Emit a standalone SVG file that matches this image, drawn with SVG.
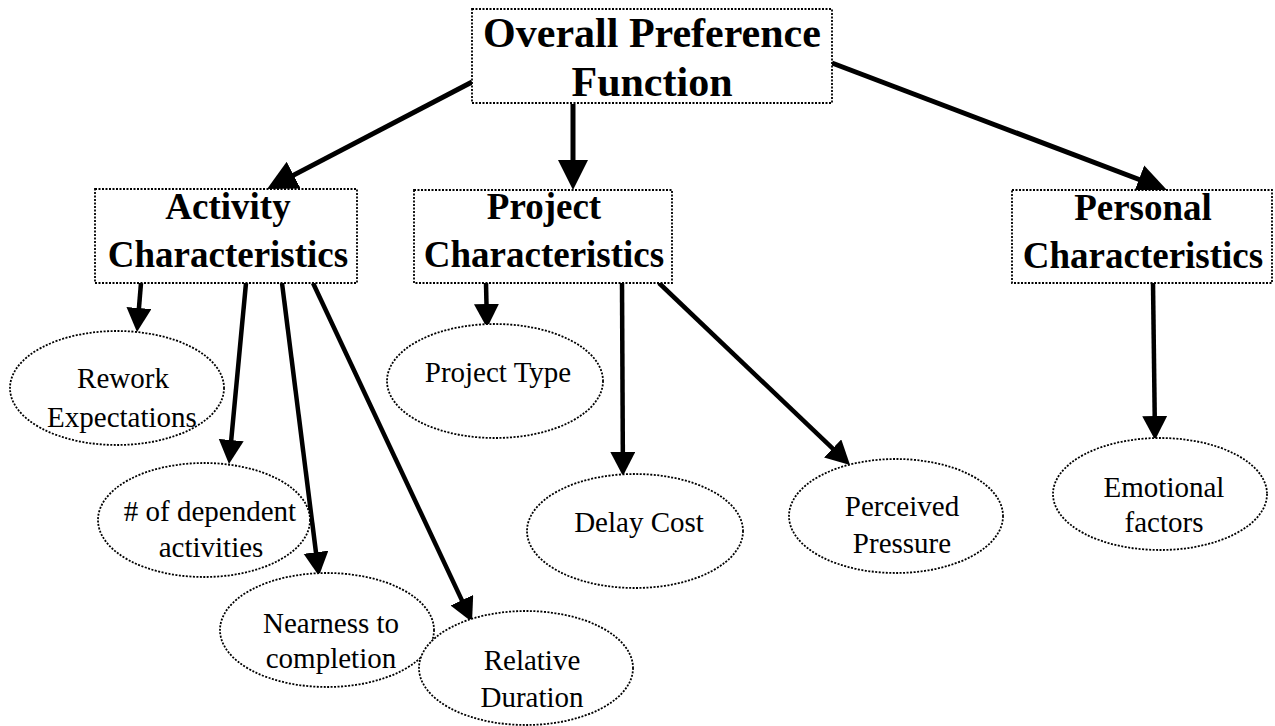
<svg xmlns="http://www.w3.org/2000/svg" width="1275" height="726" viewBox="0 0 1275 726">
<style>
.box{fill:#fff;stroke:#000;stroke-width:1.8;stroke-dasharray:2 1.5}
.ell{fill:#fff;stroke:#000;stroke-width:1.8;stroke-dasharray:2 1.5}
.t0{font-family:"Liberation Serif","Times New Roman",serif;font-weight:bold;font-size:42px;text-anchor:middle;fill:#000}
.t1{font-family:"Liberation Serif","Times New Roman",serif;font-weight:bold;font-size:37px;text-anchor:middle;fill:#000}
.t2{font-family:"Liberation Serif","Times New Roman",serif;font-size:29px;text-anchor:middle;fill:#000}
.c{stroke:#000;stroke-width:4.5;fill:none;marker-end:url(#ah)}
.cl{stroke:#000;stroke-width:5;fill:none;marker-end:url(#ahL)}
</style>
<defs>
<marker id="ah" markerUnits="userSpaceOnUse" markerWidth="26" markerHeight="27" refX="14" refY="12.5" orient="auto">
<path d="M0,0 L24,12.5 L0,25 z" fill="#000"/>
</marker>
<marker id="ahL" markerUnits="userSpaceOnUse" markerWidth="32" markerHeight="32" refX="20" refY="15" orient="auto">
<path d="M0,0 L30,15 L0,30 z" fill="#000"/>
</marker>
</defs>
<rect width="1275" height="726" fill="#fff"/>
<g id="connectors">
<line class="cl" x1="472" y1="82" x2="275.9" y2="184.4"/>
<line class="cl" x1="573" y1="104" x2="573" y2="180"/>
<line class="cl" x1="832" y1="63" x2="1157.6" y2="186.5"/>
<line class="c" x1="141" y1="283" x2="137.8" y2="322"/>
<line class="c" x1="246" y1="283" x2="229.9" y2="454"/>
<line class="c" x1="282" y1="283" x2="317.7" y2="566.1"/>
<line class="c" x1="313" y1="283" x2="467.8" y2="612.9"/>
<line class="c" x1="486" y1="283" x2="486.8" y2="318"/>
<line class="c" x1="622" y1="283" x2="622.9" y2="466"/>
<line class="c" x1="659" y1="283" x2="842.8" y2="458.1"/>
<line class="c" x1="1153" y1="283" x2="1154.9" y2="430"/>
</g>
<g id="overall">
<rect class="box" x="472" y="9" width="360" height="94"/>
<text class="t0" x="652" y="47">Overall Preference</text>
<text class="t0" x="652" y="96">Function</text>
</g>
<g id="activity">
<rect class="box" x="95" y="189" width="262" height="94"/>
<text class="t1" x="228" y="219">Activity</text>
<text class="t1" x="228" y="267">Characteristics</text>
</g>
<g id="project">
<rect class="box" x="414" y="190" width="258" height="93"/>
<text class="t1" x="544" y="219">Project</text>
<text class="t1" x="544" y="267">Characteristics</text>
</g>
<g id="personal">
<rect class="box" x="1012" y="190" width="260" height="93"/>
<text class="t1" x="1143" y="220">Personal</text>
<text class="t1" x="1143" y="268">Characteristics</text>
</g>
<g id="rework">
<ellipse class="ell" cx="117" cy="388" rx="107" ry="57"/>
<text class="t2" x="123" y="388">Rework</text>
<text class="t2" x="122" y="427">Expectations</text>
</g>
<g id="dependent">
<ellipse class="ell" cx="204" cy="520" rx="106" ry="57"/>
<text class="t2" x="210" y="521"># of dependent</text>
<text class="t2" x="211" y="557">activities</text>
</g>
<g id="nearness">
<ellipse class="ell" cx="327" cy="630" rx="107" ry="57"/>
<text class="t2" x="331" y="633">Nearness to</text>
<text class="t2" x="331" y="668">completion</text>
</g>
<g id="relative">
<ellipse class="ell" cx="526" cy="668" rx="107" ry="57"/>
<text class="t2" x="532" y="670">Relative</text>
<text class="t2" x="532" y="707">Duration</text>
</g>
<g id="projecttype">
<ellipse class="ell" cx="495" cy="381" rx="108" ry="57"/>
<text class="t2" x="498" y="382">Project Type</text>
</g>
<g id="delay">
<ellipse class="ell" cx="635" cy="531" rx="108" ry="57"/>
<text class="t2" x="639" y="532">Delay Cost</text>
</g>
<g id="perceived">
<ellipse class="ell" cx="896" cy="516" rx="107" ry="57"/>
<text class="t2" x="902" y="516">Perceived</text>
<text class="t2" x="902" y="553">Pressure</text>
</g>
<g id="emotional">
<ellipse class="ell" cx="1160" cy="494" rx="107" ry="56"/>
<text class="t2" x="1164" y="497">Emotional</text>
<text class="t2" x="1164" y="532">factors</text>
</g>
</svg>
